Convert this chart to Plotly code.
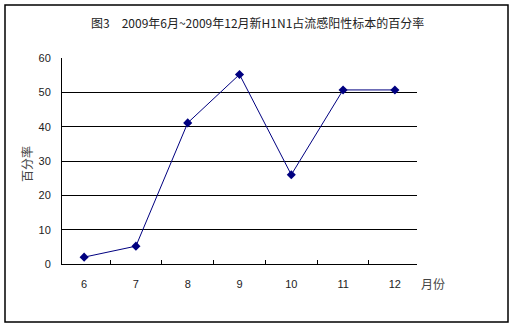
import plotly.graph_objects as go

months = ["6", "7", "8", "9", "10", "11", "12"]
percent = [2.0, 5.2, 41.1, 55.2, 26.0, 50.7, 50.7]
y_ticks = [0, 10, 20, 30, 40, 50, 60]
title_text = "图3　2009年6月~2009年12月新H1N1占流感阳性标本的百分率"
y_title = "百分率"
x_title = "月份"

CJK = "SimSun, 'Noto Sans CJK SC', sans-serif"
NUM = "Arial, 'Liberation Sans', sans-serif"

# plot area in pixels: x 62..417, y 58..264
PW, PH = 355, 206

fig = go.Figure()
fig.add_trace(go.Scatter(
    x=months, y=percent, mode="lines+markers",
    line=dict(color="#000080", width=1),
    marker=dict(symbol="diamond", size=7, color="#000080"),
    showlegend=False, cliponaxis=False,
))

fig.update_layout(
    width=516, height=329,
    margin=dict(l=62, r=99, t=58, b=65),
    paper_bgcolor="white", plot_bgcolor="white",
    font=dict(family=NUM, size=11, color="#222"),
    xaxis=dict(
        type="category", tickson="boundaries", ticks="inside", ticklen=4,
        tickcolor="black", showline=True, linecolor="black", linewidth=1,
        showgrid=False, zeroline=False, ticklabelstandoff=10,
        tickfont=dict(family=NUM, size=11, color="#222"),
    ),
    yaxis=dict(
        range=[0, 60], tickvals=y_ticks, showline=True, linecolor="black",
        linewidth=1, showgrid=True, gridcolor="black", gridwidth=1,
        zeroline=False, ticks="", ticklabelstandoff=8,
        tickfont=dict(family=NUM, size=11, color="#222"),
    ),
    annotations=[
        dict(text=title_text, xref="paper", yref="paper",
             x=(257 - 62) / PW, y=(264 - 22) / PH, xanchor="center", yanchor="middle",
             showarrow=False, font=dict(family=CJK, size=12, color="#222")),
        dict(text=y_title, xref="paper", yref="paper",
             x=(26 - 62) / PW, y=(264 - 164) / PH, xanchor="center", yanchor="middle",
             textangle=-90, showarrow=False, font=dict(family=CJK, size=12, color="#444")),
        dict(text=x_title, xref="paper", yref="paper",
             x=(419 - 62) / PW, y=(264 - 283) / PH, xanchor="left", yanchor="middle",
             showarrow=False, font=dict(family=CJK, size=12, color="#444")),
    ],
    shapes=[dict(type="rect", xref="paper", yref="paper",
                 x0=(5 - 62) / PW, x1=(508 - 62) / PW,
                 y0=(264 - 322) / PH, y1=(264 - 5) / PH,
                 line=dict(color="black", width=1.5))],
)

fig.write_html("out.html")
